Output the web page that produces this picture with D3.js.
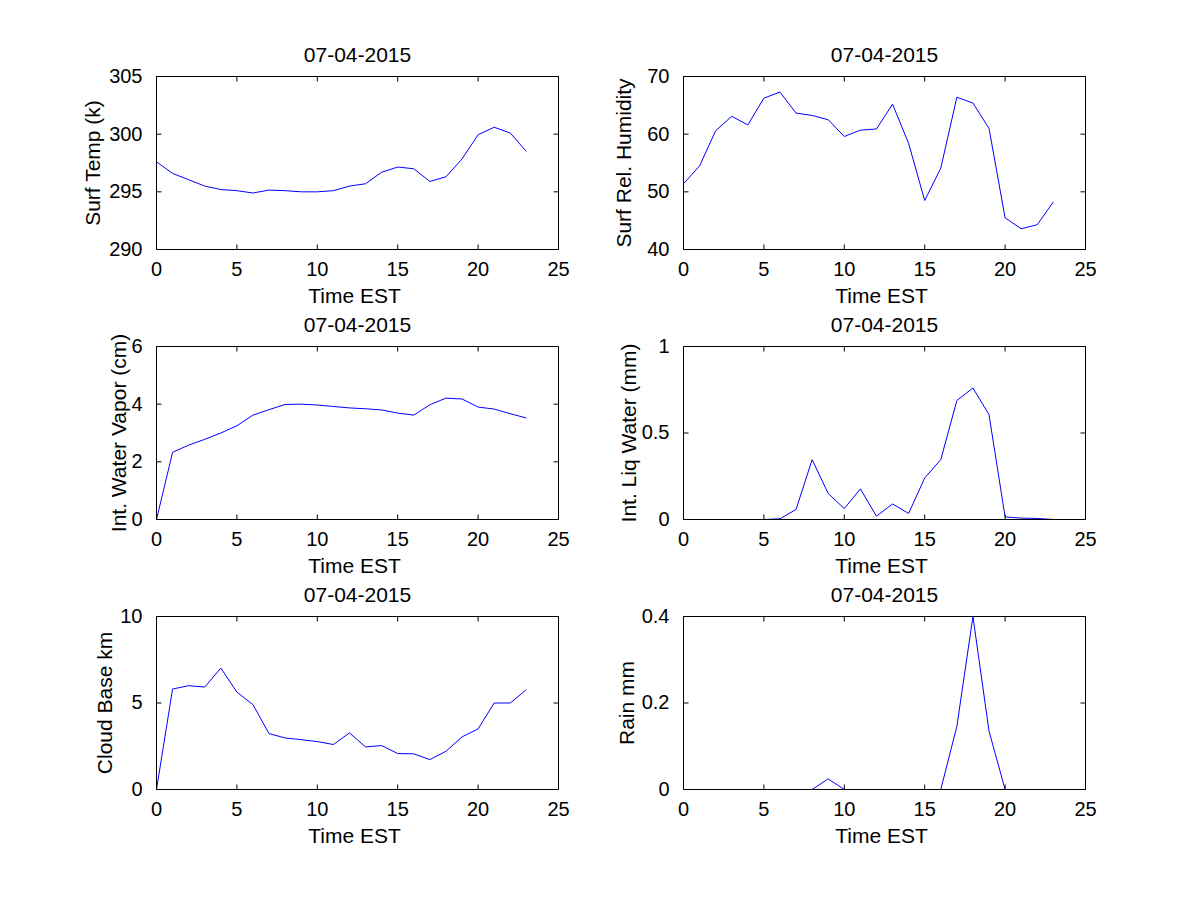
<!DOCTYPE html>
<html>
<head>
<meta charset="utf-8">
<script src="https://cdn.jsdelivr.net/npm/d3@7"></script>
<style>
  body { margin: 0; background: #fff; }
  svg { display: block; }
  text { font-family: "Liberation Sans", Arial, Helvetica, sans-serif; fill: #000; }
</style>
</head>
<body>
<div id="chart"></div>
<script>
"use strict";

// hourly values, 07-04-2015
var hours = d3.range(0, 24);
var surfTemp = [297.6, 296.6, 296.05, 295.5, 295.2, 295.1, 294.9, 295.15, 295.1, 295.0, 295.0, 295.1,
                295.5, 295.7, 296.7, 297.15, 297.0, 295.9, 296.3, 297.85, 299.95, 300.6, 300.1, 298.5];
var surfRH = [51.4, 54.5, 60.6, 63.1, 61.6, 66.25, 67.3, 63.65, 63.25, 62.5, 59.6, 60.7,
              60.9, 65.2, 58.4, 48.5, 54.1, 66.4, 65.4, 61.0, 45.5, 43.6, 44.3, 48.25];
var waterVapor = [0, 2.33, 2.58, 2.78, 3.0, 3.25, 3.62, 3.81, 3.99, 4.0, 3.97, 3.92,
                  3.87, 3.84, 3.8, 3.69, 3.62, 3.98, 4.21, 4.18, 3.9, 3.83, 3.67, 3.52];
var liqWater = [0, 0, 0, 0, 0, 0, 0.004, 0.058, 0.346, 0.15, 0.063, 0.177,
                0.019, 0.09, 0.035, 0.24, 0.346, 0.688, 0.76, 0.606, 0.015, 0.008, 0.006, 0];
var cloudBase = [0, 5.81, 6.0, 5.92, 7.02, 5.63, 4.9, 3.23, 2.98, 2.88, 2.77, 2.6,
                 3.27, 2.46, 2.54, 2.08, 2.06, 1.73, 2.21, 3.04, 3.5, 5.0, 5.0, 5.77];
var rain = [0, 0, 0, 0, 0, 0, 0, 0, 0, 0.0246, 0, 0,
            0, 0, 0, 0, 0, 0.146, 0.4, 0.135, 0, 0, 0, 0];

var xTicks = [0, 5, 10, 15, 20, 25];
var titleText = "07-04-2015";
var xLabelText = "Time EST";

var panels = [
  { label: "Surf Temp (k)",         values: surfTemp,   domain: [290, 305], ticks: [290, 295, 300, 305] },
  { label: "Surf Rel. Humidity",    values: surfRH,     domain: [40, 70],   ticks: [40, 50, 60, 70] },
  { label: "Int. Water Vapor (cm)", values: waterVapor, domain: [0, 6],     ticks: [0, 2, 4, 6] },
  { label: "Int. Liq Water (mm)",   values: liqWater,   domain: [0, 1],     ticks: [0, 0.5, 1] },
  { label: "Cloud Base km",         values: cloudBase,  domain: [0, 10],    ticks: [0, 5, 10] },
  { label: "Rain mm",               values: rain,       domain: [0, 0.4],   ticks: [0, 0.2, 0.4] }
];

// layout (pixels); half-pixel origin keeps 1px lines crisp
var W = 1200, H = 900;
var colX = [156.5, 683.5];
var rowY = [76.5, 346.5, 616.5];
var axW = 402, axH = 173;
var yLabelOffset = [64, 60, 38.5, 55, 52, 57.5];
var tickLen = 5;

var svg = d3.select("#chart").append("svg")
    .attr("width", W)
    .attr("height", H);

svg.append("rect").attr("width", W).attr("height", H).attr("fill", "#fff");

panels.forEach(function (p, i) {
  var ox = colX[i % 2], oy = rowY[Math.floor(i / 2)];
  var g = svg.append("g").attr("transform", "translate(" + ox + "," + oy + ")");

  var x = d3.scaleLinear().domain([0, 25]).range([0, axW]);
  var y = d3.scaleLinear().domain(p.domain).range([axH, 0]);

  // data line
  var line = d3.line()
      .x(function (d, j) { return x(hours[j]); })
      .y(function (d) { return y(d); });

  g.append("path")
      .datum(p.values)
      .attr("fill", "none")
      .attr("stroke", "#0000ff")
      .attr("stroke-width", 1)
      .attr("d", line);

  // axes: ticks inward, mirrored on top and right
  var fmt = function (d) { return String(d); };
  var bottom = d3.axisBottom(x).tickValues(xTicks).tickSizeInner(-tickLen).tickSizeOuter(0).tickPadding(tickLen + 8).tickFormat(fmt).offset(0);
  var top = d3.axisTop(x).tickValues(xTicks).tickSizeInner(-tickLen).tickSizeOuter(0).tickFormat("").offset(0);
  var left = d3.axisLeft(y).tickValues(p.ticks).tickSizeInner(-tickLen).tickSizeOuter(0).tickPadding(tickLen + 9).tickFormat(fmt).offset(0);
  var right = d3.axisRight(y).tickValues(p.ticks).tickSizeInner(-tickLen).tickSizeOuter(0).tickFormat("").offset(0);

  var gb = g.append("g").attr("transform", "translate(0," + axH + ")").call(bottom);
  var gt = g.append("g").call(top);
  var gl = g.append("g").call(left);
  var gr = g.append("g").attr("transform", "translate(" + axW + ",0)").call(right);

  [gb, gt, gl, gr].forEach(function (a) {
    a.attr("font-family", null).attr("font-size", null);
    a.selectAll("path.domain").attr("stroke", "#000").attr("stroke-width", 1);
    a.selectAll(".tick line").attr("stroke", "#000").attr("stroke-width", 1);
    a.selectAll(".tick text").attr("font-size", 20).attr("fill", "#000");
  });
  gb.selectAll(".tick text").attr("dy", null).attr("y", 26.5);

  // title
  g.append("text")
      .attr("x", axW / 2)
      .attr("y", -15)
      .attr("text-anchor", "middle")
      .attr("font-size", 21)
      .text(titleText);

  // x label
  g.append("text")
      .attr("x", axW / 2 - 3)
      .attr("y", axH + 53)
      .attr("text-anchor", "middle")
      .attr("font-size", 21)
      .text(xLabelText);

  // y label
  g.append("text")
      .attr("transform", "translate(" + (-yLabelOffset[i]) + "," + (axH / 2) + ") rotate(-90)")
      .attr("text-anchor", "middle")
      .attr("dy", "0.36em")
      .attr("font-size", 21)
      .text(p.label);
});
</script>
</body>
</html>
